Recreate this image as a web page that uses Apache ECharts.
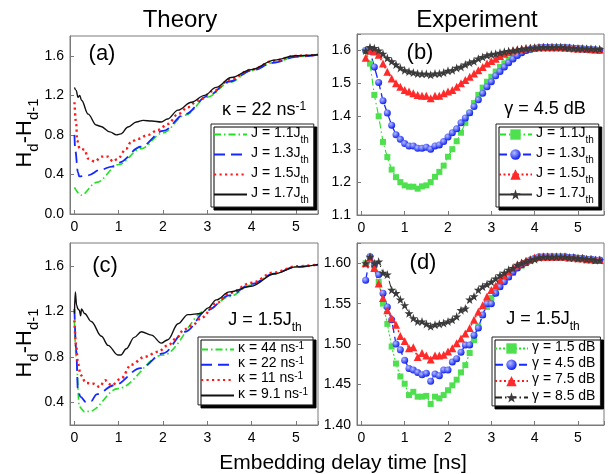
<!DOCTYPE html>
<html><head><meta charset="utf-8">
<script src="https://cdn.jsdelivr.net/npm/echarts@6/dist/echarts.min.js"></script>
<style>html,body{margin:0;padding:0;background:#fff}#c{width:613px;height:474px}</style>
</head><body><div id="c"></div>
<script>
// ---------------- Theory (a): kappa = 22 ns^-1 ----------------
const aJ11x = [0, 0.15, 0.5, 1.0, 1.5, 2.0, 2.5, 3.0, 3.5, 4.0, 4.5, 5.0, 5.5];
const aJ11y = [0.27, 0.19, 0.32, 0.50, 0.66, 0.82, 1.00, 1.18, 1.33, 1.45, 1.53, 1.59, 1.61];
const aJ13x = [0, 0.02, 0.08, 0.11, 0.3, 0.6, 0.85, 1.0, 1.5, 2.0, 2.5, 3.0, 3.5, 4.0, 4.5, 5.0, 5.5];
const aJ13y = [0.80, 0.64, 0.42, 0.38, 0.39, 0.45, 0.48, 0.52, 0.68, 0.84, 1.01, 1.19, 1.34, 1.45, 1.53, 1.59, 1.61];
const aJ15x = [0, 0.04, 0.06, 0.12, 0.23, 0.31, 0.46, 0.61, 0.76, 0.87, 0.98, 1.17, 1.28, 1.44, 1.66, 1.89, 2.11, 2.34, 2.56, 2.79, 3.17, 3.5, 4.0, 4.5, 5.0, 5.5];
const aJ15y = [1.13, 0.91, 0.745, 0.66, 0.65, 0.56, 0.53, 0.58, 0.58, 0.53, 0.56, 0.66, 0.73, 0.76, 0.80, 0.85, 0.91, 1.01, 1.08, 1.15, 1.25, 1.36, 1.46, 1.55, 1.60, 1.61];
const aJ17x = [0, 0.04, 0.08, 0.12, 0.16, 0.31, 0.49, 0.6, 0.8, 0.95, 1.05, 1.21, 1.4, 1.55, 1.75, 1.96, 2.1, 2.34, 2.64, 2.94, 3.2, 3.54, 3.99, 4.52, 4.98, 5.5];
const aJ17y = [1.28, 1.25, 1.18, 1.20, 1.15, 1.01, 0.90, 0.885, 0.83, 0.80, 0.81, 0.88, 0.93, 0.947, 0.94, 0.93, 0.96, 1.05, 1.13, 1.20, 1.28, 1.38, 1.46, 1.556, 1.60, 1.61];

// ---------------- Theory (c): J = 1.5 J_th ----------------
const cK44x = [0, 0.04, 0.11, 0.23, 0.34, 0.98, 2.0, 3.0, 3.5, 4.0, 4.5, 5.0, 5.5];
const cK44y = [1.12, 0.80, 0.36, 0.315, 0.32, 0.52, 0.815, 1.21, 1.33, 1.43, 1.53, 1.59, 1.61];
const cK22x = [0, 0.04, 0.08, 0.14, 0.26, 0.38, 0.5, 0.9, 1.5, 2.0, 2.5, 3.0, 3.5, 4.0, 4.5, 5.0, 5.5];
const cK22y = [1.22, 0.86, 0.50, 0.447, 0.40, 0.41, 0.47, 0.55, 0.70, 0.83, 1.02, 1.21, 1.34, 1.44, 1.53, 1.59, 1.61];
const cK11x = [0, 0.04, 0.08, 0.14, 0.26, 0.41, 0.57, 0.69, 0.84, 1.06, 1.28, 1.59, 1.89, 2.11, 2.34, 2.45, 2.68, 2.86, 3.2, 3.5, 4.0, 4.5, 5.0, 5.5];
const cK11y = [1.12, 0.89, 0.74, 0.64, 0.57, 0.565, 0.535, 0.594, 0.55, 0.61, 0.73, 0.80, 0.844, 0.90, 0.976, 1.035, 1.08, 1.14, 1.27, 1.36, 1.45, 1.54, 1.595, 1.61];
const cK91x = [0, 0.02, 0.05, 0.08, 0.11, 0.14, 0.16, 0.23, 0.38, 0.61, 0.76, 0.98, 1.05, 1.17, 1.35, 1.51, 1.74, 1.96, 2.11, 2.34, 2.56, 2.86, 3.02, 3.2, 3.5, 3.99, 4.52, 5.0, 5.5];
const cK91y = [1.18, 1.37, 1.25, 1.22, 1.21, 1.16, 1.22, 1.18, 1.11, 0.98, 0.90, 0.815, 0.815, 0.87, 0.97, 1.02, 0.99, 0.92, 0.95, 1.09, 1.17, 1.18, 1.23, 1.30, 1.37, 1.42, 1.53, 1.59, 1.61];

// ---------------- Experiment: delay grid ----------------
const xExp = [0.1,0.2,0.3,0.4,0.5,0.6,0.7,0.8,0.9,1.0,
  1.1,1.2,1.3,1.4,1.5,1.6,1.7,1.8,1.9,2.0,
  2.1,2.2,2.3,2.4,2.5,2.6,2.7,2.8,2.9,3.0,
  3.1,3.2,3.3,3.4,3.5,3.6,3.7,3.8,3.9,4.0,
  4.1,4.2,4.3,4.4,4.5,4.6,4.7,4.8,4.9,5.0,
  5.1,5.2,5.3,5.4,5.5];

// (b) gamma = 4.5 dB
const bJ11 = [1.600,1.560,1.465,1.400,1.322,1.276,1.238,1.215,1.200,1.190,
  1.186,1.186,1.180,1.187,1.190,1.200,1.216,1.231,1.250,1.277,
  1.300,1.324,1.350,1.380,1.410,1.440,1.465,1.487,1.505,1.520,
  1.536,1.550,1.561,1.573,1.582,1.590,1.597,1.600,1.603,1.606,
  1.608,1.609,1.610,1.610,1.610,1.610,1.609,1.608,1.607,1.606,
  1.605,1.604,1.603,1.602,1.601];
const bJ13 = [1.600,1.598,1.550,1.503,1.447,1.410,1.373,1.344,1.330,1.317,
  1.310,1.310,1.303,1.303,1.306,1.300,1.310,1.313,1.323,1.337,
  1.350,1.362,1.380,1.395,1.411,1.430,1.450,1.470,1.490,1.505,
  1.523,1.536,1.550,1.563,1.574,1.585,1.593,1.600,1.604,1.607,
  1.609,1.610,1.610,1.610,1.610,1.610,1.609,1.608,1.607,1.606,
  1.605,1.604,1.603,1.602,1.601];
const bJ15 = [1.578,1.600,1.597,1.587,1.560,1.535,1.515,1.500,1.490,1.480,
  1.475,1.470,1.465,1.462,1.462,1.455,1.462,1.462,1.470,1.475,
  1.480,1.490,1.500,1.510,1.520,1.530,1.540,1.550,1.560,1.568,
  1.575,1.583,1.590,1.595,1.600,1.603,1.605,1.607,1.608,1.609,
  1.610,1.610,1.610,1.610,1.610,1.610,1.609,1.608,1.607,1.606,
  1.606,1.605,1.604,1.603,1.603];
const bJ17 = [1.600,1.610,1.607,1.600,1.590,1.577,1.567,1.557,1.547,1.540,
  1.536,1.533,1.530,1.529,1.529,1.526,1.530,1.530,1.533,1.538,
  1.540,1.547,1.550,1.557,1.563,1.567,1.575,1.580,1.585,1.588,
  1.590,1.593,1.596,1.598,1.600,1.602,1.604,1.606,1.607,1.608,
  1.609,1.610,1.610,1.610,1.610,1.610,1.609,1.608,1.607,1.606,
  1.606,1.605,1.605,1.604,1.604];

// (d) J = 1.5 J_th
const dG15 = [1.600,1.608,1.594,1.577,1.550,1.525,1.497,1.476,1.460,1.451,
  1.437,1.441,1.435,1.435,1.436,1.426,1.435,1.433,1.437,1.443,
  1.449,1.456,1.465,1.474,1.489,1.505,1.522,1.536,1.546,1.557,
  1.563,1.571,1.579,1.583,1.588,1.594,1.597,1.600,1.603,1.605,
  1.607,1.608,1.608,1.608,1.608,1.608,1.608,1.607,1.607,1.606,
  1.606,1.605,1.605,1.604,1.604];
const dG45 = [1.579,1.608,1.598,1.586,1.563,1.546,1.530,1.500,1.493,1.480,
  1.470,1.468,1.465,1.462,1.464,1.454,1.463,1.461,1.468,1.468,
  1.478,1.482,1.490,1.499,1.499,1.511,1.520,1.536,1.550,1.550,
  1.563,1.571,1.577,1.583,1.589,1.594,1.598,1.601,1.604,1.606,
  1.608,1.608,1.608,1.608,1.608,1.608,1.608,1.607,1.607,1.606,
  1.606,1.605,1.605,1.604,1.604];
const dG75 = [1.600,1.607,1.594,1.575,1.557,1.542,1.532,1.524,1.510,1.504,
  1.495,1.496,1.484,1.489,1.486,1.481,1.486,1.486,1.487,1.491,
  1.495,1.501,1.507,1.513,1.520,1.530,1.540,1.548,1.559,1.567,
  1.572,1.579,1.585,1.590,1.594,1.598,1.601,1.603,1.605,1.607,
  1.608,1.608,1.608,1.608,1.608,1.608,1.608,1.607,1.607,1.606,
  1.606,1.605,1.605,1.604,1.604];
const dG85 = [1.600,1.608,1.600,1.602,1.588,1.586,1.567,1.563,1.555,1.548,
  1.538,1.532,1.528,1.528,1.525,1.522,1.524,1.525,1.526,1.528,
  1.530,1.534,1.542,1.544,1.555,1.559,1.567,1.571,1.574,1.577,
  1.581,1.585,1.588,1.592,1.594,1.598,1.600,1.602,1.604,1.605,
  1.607,1.608,1.608,1.608,1.608,1.608,1.608,1.607,1.607,1.606,
  1.606,1.605,1.605,1.604,1.604];

// tick values and labels
const yTicksA = [0.0, 0.4, 0.8, 1.2, 1.6];
const yTicksC = [0.4, 0.8, 1.2, 1.6];
const legA = ['J = 1.1J', 'J = 1.3J', 'J = 1.5J', 'J = 1.7J'];
const legC = ['κ = 44 ns', 'κ = 22 ns', 'κ = 11 ns', 'κ = 9.1 ns'];
const legD = ['γ = 1.5 dB', 'γ = 4.5 dB', 'γ = 7.5 dB', 'γ = 8.5 dB'];

// ---------------- rendering ----------------
const FONT = 'Arial, "Liberation Sans", Helvetica, sans-serif';
const pair = (xs, ys) => xs.map((x, i) => [x, ys[i]]);
const GREEN = '#22e022', BLUE = '#1428ff', RED = '#ff1a1a', BLACK = '#111';
const STAR = 'path://M50,0 L61.8,35.1 L98.9,35.1 L69,57 L80.3,92 L50,70.5 L19.7,92 L31,57 L1.1,35.1 L38.2,35.1 Z';
const blueBall = {type:'radial', x:0.38, y:0.35, r:0.65, colorStops:[{offset:0,color:'#b4beff'},{offset:1,color:'#1020f0'}]};

const grids = [
  {left:70, top:36, width:248, height:178},
  {left:357, top:34, width:247, height:181},
  {left:70, top:243, width:248, height:182},
  {left:357, top:243, width:247, height:182}
];
const frame = '#7a7a7a';
function xAx(i, max) {
  return {type:'value', gridIndex:i, min:-0.1, max:max, splitNumber:5,
    axisLine:{show:true, onZero:false, lineStyle:{color:frame}},
    axisTick:{show:true, inside:true, length:4, lineStyle:{color:frame}},
    splitLine:{show:false},
    axisLabel:{color:'#000', fontSize:14, fontFamily:FONT, margin:6,
      formatter: v => Math.abs(v - Math.round(v)) < 1e-6 ? String(Math.round(v)) : ''}};
}
function yAx(i, min, max, interval, step, dec, custom) {
  const ax = {type:'value', gridIndex:i, min:min, max:max, interval:interval,
    axisLine:{show:true, onZero:false, lineStyle:{color:frame}},
    axisTick:{show:true, inside:true, length:4, lineStyle:{color:frame}},
    splitLine:{show:false},
    axisLabel:{color:'#000', fontSize:14, fontFamily:FONT, margin:6,
      formatter: v => { const k = v / step; return Math.abs(k - Math.round(k)) < 1e-6 ? v.toFixed(dec) : ''; }}};
  if (custom) { ax.axisTick.customValues = custom; ax.axisLabel.customValues = custom; }
  return ax;
}

function th(name, i, xs, ys, color, type, width) {
  return {name, type:'line', xAxisIndex:i, yAxisIndex:i, data:pair(xs, ys),
    symbol:'none', showSymbol:false, smooth:0.35, smoothMonotone:'x',
    lineStyle:{color, type, width}, itemStyle:{color}, z:3};
}
function ex(name, i, ys, color, type, symbol, size, fill, lineW) {
  return {name, type:'line', xAxisIndex:i, yAxisIndex:i, data:pair(xExp, ys),
    symbol, symbolSize:size, showSymbol:true,
    lineStyle:{color, type, width:lineW}, itemStyle:{color:fill, borderWidth:0}, z:3};
}

const DASHDOT = [7,3,1.5,3];
const series = [
  th('a1', 0, aJ11x, aJ11y, GREEN, DASHDOT, 1.6),
  th('a2', 0, aJ13x, aJ13y, BLUE, [11,6], 1.8),
  th('a3', 0, aJ15x, aJ15y, RED, [2.2,3.3], 2.4),
  th('a4', 0, aJ17x, aJ17y, BLACK, 'solid', 1.4),
  ex('b1', 1, bJ11, GREEN, DASHDOT, 'rect', 6, '#4fe04f', 1.1),
  ex('b2', 1, bJ13, BLUE, [8,4], 'circle', 7, blueBall, 1.3),
  ex('b3', 1, bJ15, RED, [2,2.5], 'triangle', 8, '#ff2a2a', 1.5),
  ex('b4', 1, bJ17, '#333', 'solid', STAR, 9, '#3a3a3a', 1.0),
  th('c1', 2, cK44x, cK44y, GREEN, DASHDOT, 1.6),
  th('c2', 2, cK22x, cK22y, BLUE, [11,6], 1.8),
  th('c3', 2, cK11x, cK11y, RED, [2.2,3.3], 2.4),
  th('c4', 2, cK91x, cK91y, BLACK, 'solid', 1.4),
  ex('d1', 3, dG15, GREEN, [2,2], 'rect', 6, '#4fe04f', 1.1),
  ex('d2', 3, dG45, BLUE, [8,4], 'circle', 7, blueBall, 1.3),
  ex('d3', 3, dG75, RED, [2,2.5], 'triangle', 8, '#ff2a2a', 1.5),
  ex('d4', 3, dG85, '#222', DASHDOT, STAR, 9, '#3a3a3a', 1.0)
];

const sub = {fontSize:10, fontFamily:FONT, color:'#000', lineHeight:10, padding:[9,0,0,0], verticalAlign:'top'};
const sup = {fontSize:10, fontFamily:FONT, color:'#000', lineHeight:10, verticalAlign:'top'};
const mainT = {fontSize:14, fontFamily:FONT, color:'#000', lineHeight:17, verticalAlign:'top'};
const legName = {
  a1:'{t|'+legA[0]+'}{s|th}', a2:'{t|'+legA[1]+'}{s|th}', a3:'{t|'+legA[2]+'}{s|th}', a4:'{t|'+legA[3]+'}{s|th}',
  b1:'{t|'+legA[0]+'}{s|th}', b2:'{t|'+legA[1]+'}{s|th}', b3:'{t|'+legA[2]+'}{s|th}', b4:'{t|'+legA[3]+'}{s|th}',
  c1:'{t|'+legC[0]+'}{u|-1}', c2:'{t|'+legC[1]+'}{u|-1}', c3:'{t|'+legC[2]+'}{u|-1}', c4:'{t|'+legC[3]+'}{u|-1}',
  d1:'{t|'+legD[0]+'}', d2:'{t|'+legD[1]+'}', d3:'{t|'+legD[2]+'}', d4:'{t|'+legD[3]+'}'
};
function leg(names, left, top, gap, pad, lineOnly) {
  const data = names.map(n => lineOnly ? {name:n, itemStyle:{opacity:0}} : n);
  return {data, orient:'vertical', left, top, itemWidth:33, itemHeight:13, itemGap:gap,
    padding:pad, backgroundColor:'#fff', borderColor:'#222', borderWidth:1, borderRadius:0,
    shadowColor:'#000', shadowBlur:0, shadowOffsetX:3, shadowOffsetY:3,
    selectedMode:false, formatter: n => legName[n],
    textStyle:{fontSize:14, fontFamily:FONT, color:'#000', padding:[0,0,0,-1], rich:{t:mainT, s:sub, u:sup}}};
}

const big = {fontFamily:FONT, fill:'#000'};
function txt(x, y, text, size, rich, rot) {
  return {type:'text', x, y, rotation:rot || 0, z:10,
    style:Object.assign({text, fontSize:size, align:'center', verticalAlign:'middle', rich:rich || {}}, big)};
}
const r18 = {t:{fontSize:18, fontFamily:FONT, lineHeight:20, verticalAlign:'top'},
  s:{fontSize:12, fontFamily:FONT, lineHeight:12, padding:[11,0,0,0], verticalAlign:'top'},
  u:{fontSize:12, fontFamily:FONT, lineHeight:12, verticalAlign:'top'}};
const r22 = {t:{fontSize:22, fontFamily:FONT, lineHeight:24, verticalAlign:'top'},
  s:{fontSize:15, fontFamily:FONT, lineHeight:15, padding:[12,0,0,0], verticalAlign:'top'}};

const chart = echarts.init(document.getElementById('c'), null, {renderer:'canvas'});
chart.setOption({
  animation:false,
  backgroundColor:'#fff',
  grid: grids.map(g => Object.assign({show:true, borderColor:frame, borderWidth:1, backgroundColor:'transparent'}, g)),
  xAxis:[xAx(0, 5.5), xAx(1, 5.6), xAx(2, 5.5), xAx(3, 5.6)],
  yAxis:[yAx(0, 0, 1.8, 0.4, 0.4, 1, yTicksA), yAx(1, 1.1, 1.65, 0.1, 0.1, 1),
         yAx(2, 0.2, 1.8, 0.2, 0.4, 1, yTicksC), yAx(3, 1.4, 1.625, 0.05, 0.05, 2)],
  legend:[leg(['a1','a2','a3','a4'], 211, 124, 1, [2,5,2,2], true),
          leg(['b1','b2','b3','b4'], 496, 124, 1, [2,5,2,2], false),
          leg(['c1','c2','c3','c4'], 198, 337, 1.3, [4,5,4,2], true),
          leg(['d1','d2','d3','d4'], 492, 337, 2.3, [3,5,3,2], false)],
  series,
  graphic:[
    txt(180, 20, 'Theory', 24),
    txt(477, 20, 'Experiment', 24),
    txt(343, 463, 'Embedding delay time [ns]', 21),
    txt(102, 54, '(a)', 22), txt(420, 53, '(b)', 22), txt(105, 266, '(c)', 22), txt(423, 263, '(d)', 22),
    txt(264, 111, '{t|κ = 22 ns}{u|-1}', 18, r18),
    txt(545, 110, '{t|γ = 4.5 dB}', 18, r18),
    txt(265, 321, '{t|J = 1.5J}{s|th}', 18, r18),
    txt(543, 320, '{t|J = 1.5J}{s|th}', 18, r18),
    txt(26, 133, '{t|H}{s|d}{t|-H}{s|d-1}', 22, r22, Math.PI/2),
    txt(26, 343, '{t|H}{s|d}{t|-H}{s|d-1}', 22, r22, Math.PI/2)
  ]
});
</script></body></html>
